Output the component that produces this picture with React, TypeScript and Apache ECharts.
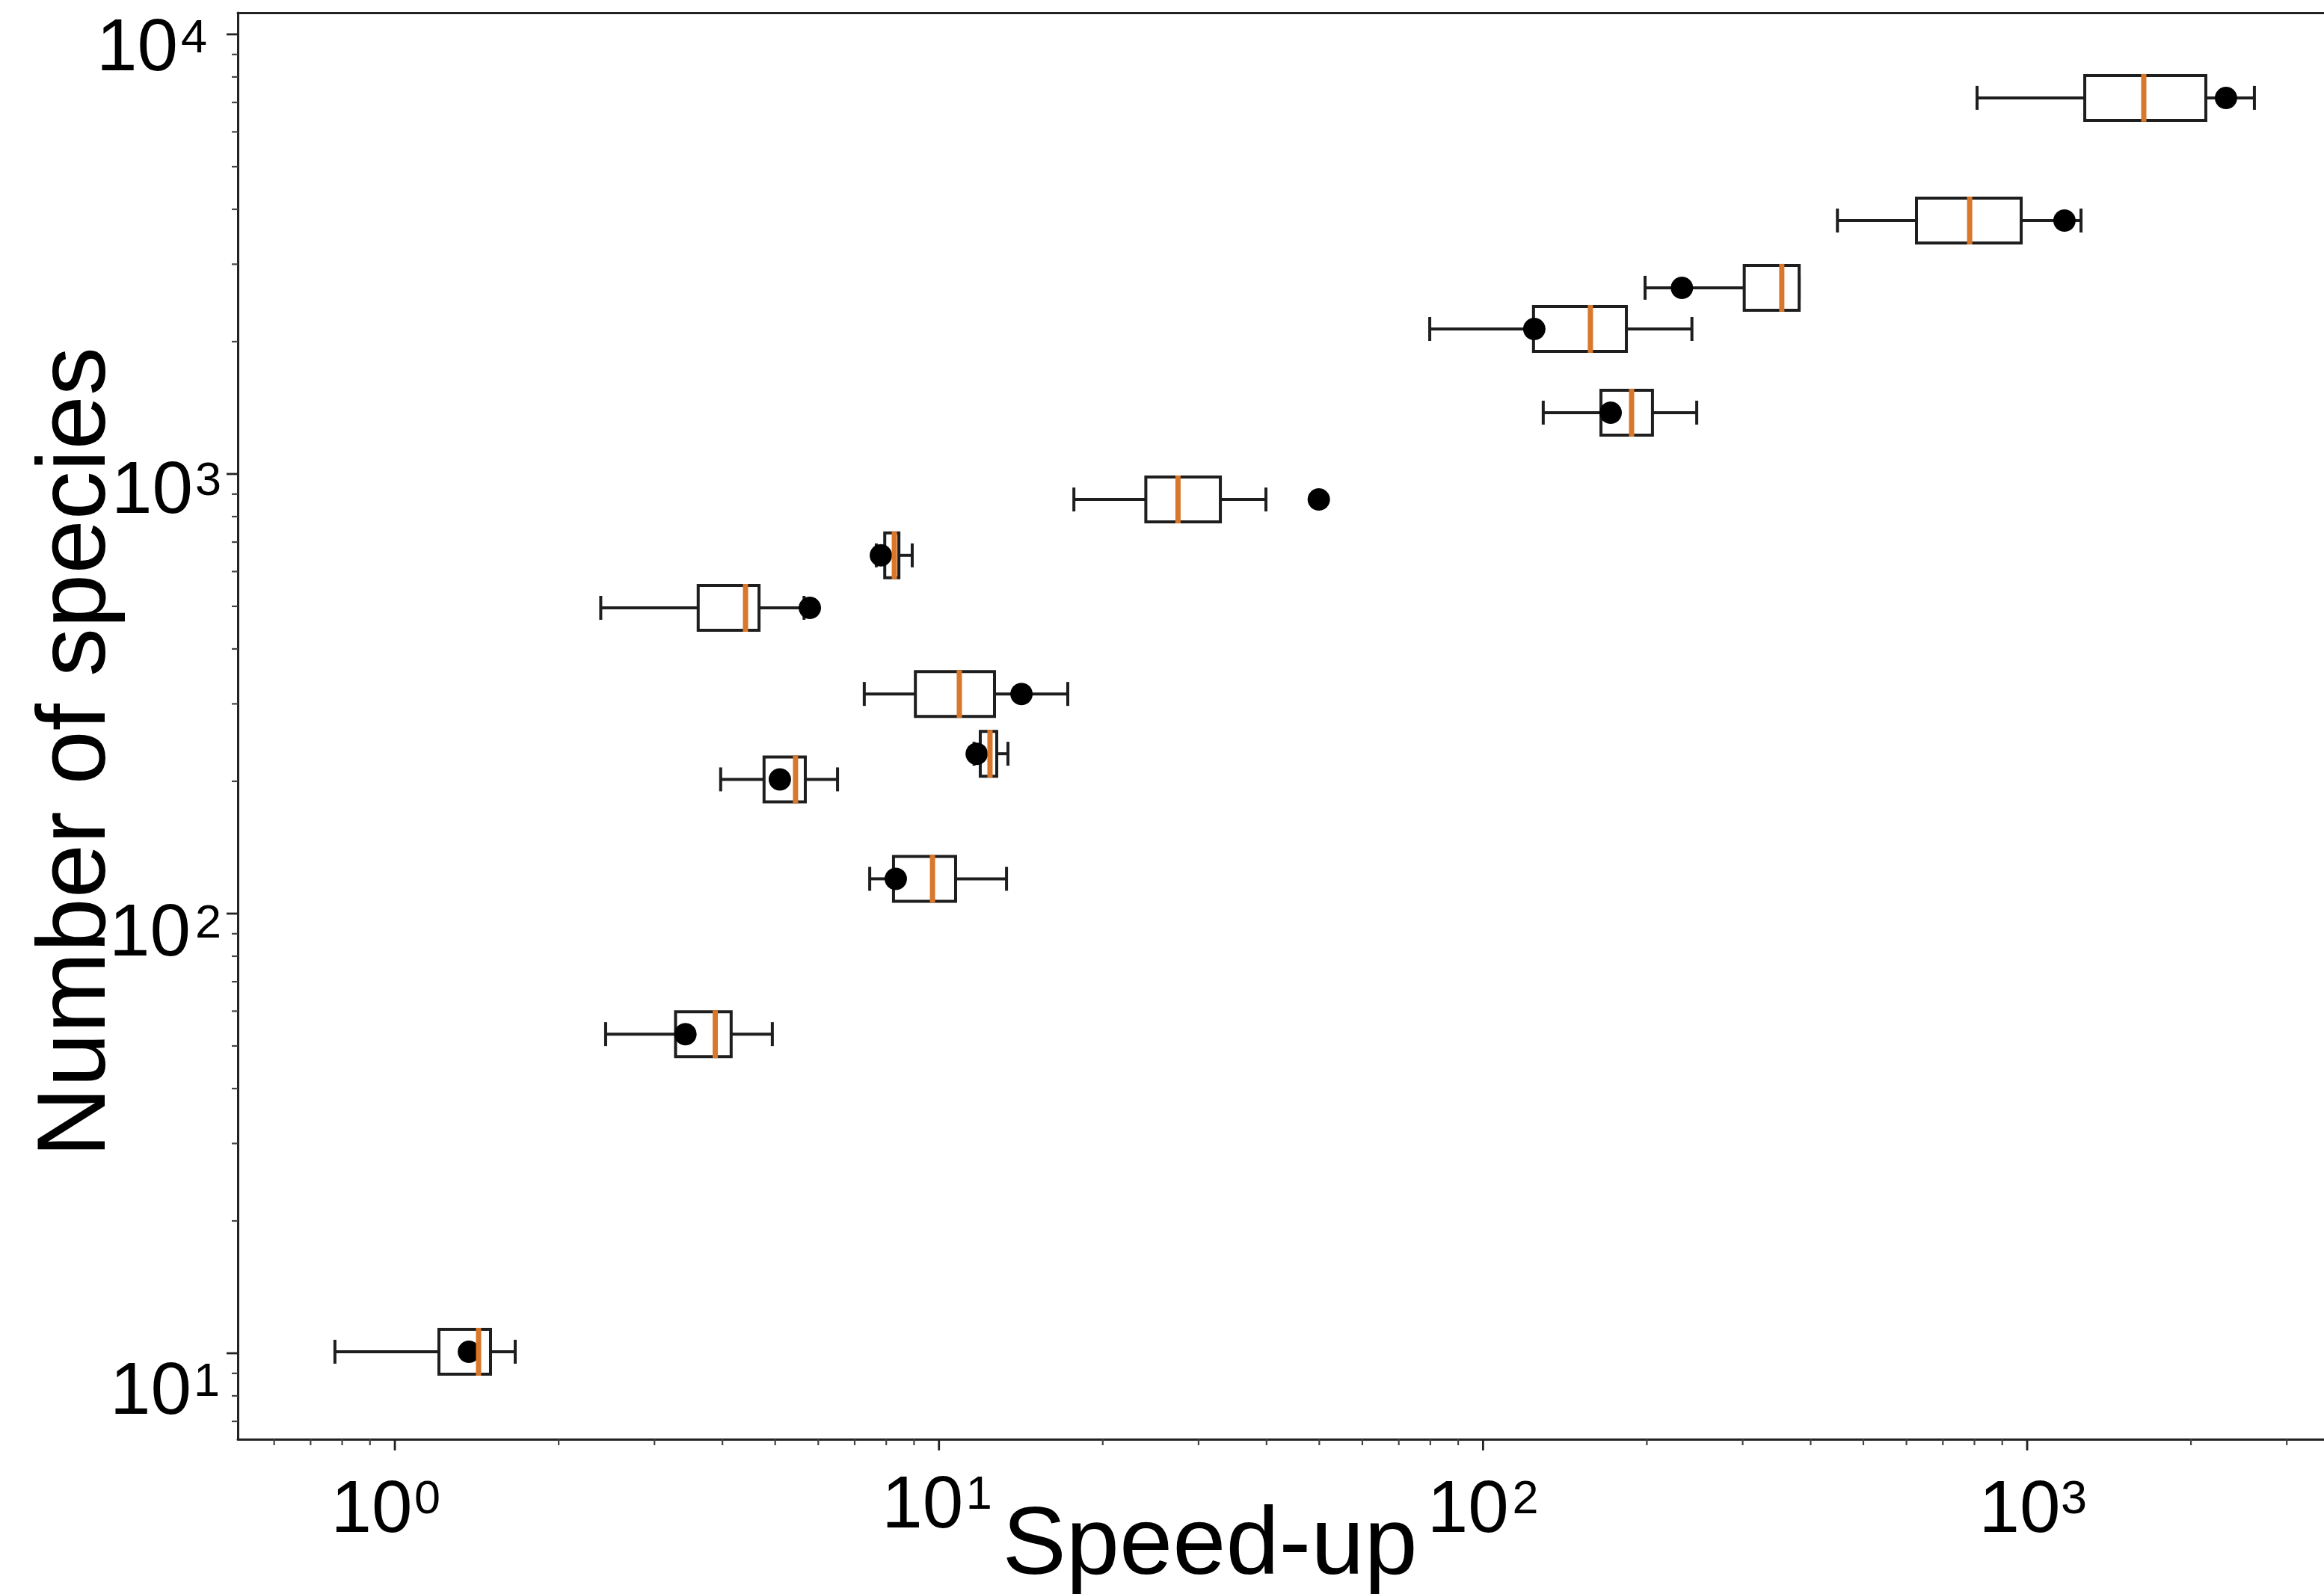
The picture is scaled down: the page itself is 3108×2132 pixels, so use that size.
import React, { useEffect, useRef } from "react";
import * as echarts from "echarts";

// ---------------- data ----------------
const species = [7170, 3772, 2652, 2137, 1379, 875, 653, 496, 316, 231, 202, 120, 53.2, 10.08];
const whiskerLow = [809, 448, 198.5, 79.8, 129, 17.7, 7.67, 2.39, 7.29, 11.6, 3.97, 7.46, 2.44, 0.776];
const quartile1 = [1276, 626, 302, 123.8, 164.7, 24.0, 7.95, 3.61, 9.05, 11.91, 4.77, 8.25, 3.28, 1.205];
const medians = [1638, 784, 354, 157.5, 187.5, 27.5, 8.28, 4.41, 10.9, 12.41, 5.45, 9.73, 3.88, 1.425];
const quartile3 = [2130, 975, 381, 183.4, 204.8, 32.9, 8.44, 4.67, 12.65, 12.77, 5.68, 10.73, 4.15, 1.499];
const whiskerHigh = [2616, 1256, 381, 242, 247, 39.9, 8.93, 5.65, 17.25, 13.39, 6.51, 13.31, 4.94, 1.664];
const pointValues = [2320, 1171, 232, 124.2, 171.6, 49.9, 7.82, 5.79, 14.18, 11.73, 5.10, 8.33, 3.42, 1.368];

// axis ranges and ticks
const X_MIN = 0.5144;
const X_MAX = 3512;
const Y_MIN = 6.374;
const Y_MAX = 11200;
const xMajorTicks = [1, 10, 100, 1000];
const xMinorTicks = [0.6, 0.7, 0.8, 0.9, 2, 3, 4, 5, 6, 7, 8, 9, 20, 30, 40, 50, 60, 70, 80, 90,
  200, 300, 400, 500, 600, 700, 800, 900, 2000, 3000];
const yMajorTicks = [10, 100, 1000, 10000];
const yMinorTicks = [7, 8, 9, 20, 30, 40, 50, 60, 70, 80, 90, 200, 300, 400, 500, 600, 700, 800, 900,
  2000, 3000, 4000, 5000, 6000, 7000, 8000, 9000];
const xTickExponents = [0, 1, 2, 3];
const yTickExponents = [1, 2, 3, 4];

// ---------------- layout / style ----------------
const FONT = "'Liberation Sans', Arial, Helvetica, sans-serif";
const BOX_STROKE = "#1e1e1e";
const MEDIAN_COLOR = "#d9772b";
// offsets of "10" and of the exponent relative to the tick position
const xLabelLayout: Record<number, { main: number[]; sup: number[] }> = {
  0: { main: [-31, 90], sup: [26, 77] },
  1: { main: [-22, 84], sup: [36, 71] },
  2: { main: [-20, 90], sup: [39, 77] },
  3: { main: [-10, 90], sup: [45, 77] },
};
const yLabelLayout: Record<number, { main: number[]; sup: number[] }> = {
  1: { main: [-62, 47], sup: [-59, 35] },
  2: { main: [-63, 22], sup: [-57, 10] },
  3: { main: [-60, 18], sup: [-57, 6] },
  4: { main: [-80, 14], sup: [-76, 2] },
};

function App() {
  const ref = useRef<HTMLDivElement>(null);

  useEffect(() => {
    document.body.style.margin = "0";
    document.body.style.overflow = "hidden";
    if (!ref.current) return;
    const chart = echarts.init(ref.current, undefined, { renderer: "svg" });

    const boxData = species.map((s, i) => [
      s, whiskerLow[i], quartile1[i], medians[i], quartile3[i], whiskerHigh[i], pointValues[i],
    ]);

    const tickData = [
      ...xMajorTicks.map((v) => [v, Y_MIN, 0, 1]),
      ...xMinorTicks.map((v) => [v, Y_MIN, 0, 0]),
      ...yMajorTicks.map((v) => [X_MIN, v, 1, 1]),
      ...yMinorTicks.map((v) => [X_MIN, v, 1, 0]),
    ];

    const labelData = [
      ...xTickExponents.map((e) => [Math.pow(10, e), Y_MIN, 0, e]),
      ...yTickExponents.map((e) => [X_MIN, Math.pow(10, e), 1, e]),
    ];

    const option: any = {
      animation: false,
      backgroundColor: "#ffffff",
      grid: {
        left: 318,
        top: 17,
        right: 0,
        bottom: 207,
        containLabel: false,
        outerBoundsMode: "none",
      },
      xAxis: [
        {
          type: "log",
          logBase: 10,
          min: X_MIN,
          max: X_MAX,
          position: "bottom",
          axisLine: { show: true, onZero: false, lineStyle: { color: "#222", width: 3 } },
          axisTick: { show: false },
          axisLabel: { show: false },
          splitLine: { show: false },
          minorTick: { show: false },
          name: "Speed-up",
          nameLocation: "middle",
          nameGap: 71,
          nameTextStyle: {
            fontSize: 128,
            fontFamily: FONT,
            color: "#000",
            padding: [0, 190, 0, 0],
          },
        },
        {
          type: "log",
          logBase: 10,
          min: X_MIN,
          max: X_MAX,
          position: "top",
          axisLine: { show: true, onZero: false, lineStyle: { color: "#222", width: 3 } },
          axisTick: { show: false },
          axisLabel: { show: false },
          splitLine: { show: false },
        },
      ],
      yAxis: {
        type: "log",
        logBase: 10,
        min: Y_MIN,
        max: Y_MAX,
        axisLine: { show: true, onZero: false, lineStyle: { color: "#222", width: 3 } },
        axisTick: { show: false },
        axisLabel: { show: false },
        splitLine: { show: false },
        name: "Number of species",
        nameLocation: "middle",
        nameGap: 158,
        nameTextStyle: {
          fontSize: 130,
          fontFamily: FONT,
          color: "#000",
          padding: [0, 70, 0, 0],
        },
      },
      series: [
        {
          type: "custom",
          name: "ticks",
          coordinateSystem: "cartesian2d",
          xAxisIndex: 0,
          yAxisIndex: 0,
          silent: true,
          clip: false,
          encode: { x: 0, y: 1 },
          data: tickData,
          renderItem: (params: any, api: any) => {
            const p = api.coord([api.value(0), api.value(1)]);
            const isY = api.value(2) === 1;
            const major = api.value(3) === 1;
            const len = major ? 15 : 8;
            const shape = isY
              ? { x1: p[0] - len, y1: p[1], x2: p[0], y2: p[1] }
              : { x1: p[0], y1: p[1], x2: p[0], y2: p[1] + len };
            return {
              type: "line",
              shape,
              style: { stroke: major ? "#222" : "#444", lineWidth: major ? 2.8 : 2.2 },
            };
          },
        },
        {
          type: "custom",
          name: "tickLabels",
          coordinateSystem: "cartesian2d",
          xAxisIndex: 0,
          yAxisIndex: 0,
          silent: true,
          clip: false,
          encode: { x: 0, y: 1 },
          data: labelData,
          renderItem: (params: any, api: any) => {
            const p = api.coord([api.value(0), api.value(1)]);
            const isY = api.value(2) === 1;
            const e = api.value(3);
            const lay = isY ? yLabelLayout[e] : xLabelLayout[e];
            return {
              type: "group",
              children: [
                {
                  type: "text",
                  style: {
                    text: "10",
                    x: p[0] + lay.main[0],
                    y: p[1] + lay.main[1],
                    fontSize: 98,
                    fontFamily: FONT,
                    fill: "#000",
                    align: isY ? "right" : "center",
                    textAlign: isY ? "right" : "center",
                    verticalAlign: "middle",
                    textVerticalAlign: "middle",
                  },
                },
                {
                  type: "text",
                  style: {
                    text: String(e),
                    x: p[0] + lay.sup[0],
                    y: p[1] + lay.sup[1],
                    fontSize: 63,
                    fontFamily: FONT,
                    fill: "#000",
                    align: "left",
                    textAlign: "left",
                    verticalAlign: "middle",
                    textVerticalAlign: "middle",
                  },
                },
              ],
            };
          },
        },
        {
          type: "custom",
          name: "boxes",
          coordinateSystem: "cartesian2d",
          xAxisIndex: 0,
          yAxisIndex: 0,
          silent: true,
          clip: false,
          encode: { x: [1, 2, 3, 4, 5, 6], y: 0 },
          data: boxData,
          z: 5,
          renderItem: (params: any, api: any) => {
            const yv = api.value(0);
            const xs = [1, 2, 3, 4, 5, 6].map((d) => api.coord([api.value(d), yv])[0]);
            const yc = api.coord([api.value(3), yv])[1];
            const [xl, xq1, xmed, xq3, xh, xdot] = xs;
            const hb = 30;
            const hc = 16;
            const lineStyle = { stroke: BOX_STROKE, lineWidth: 4 };
            return {
              type: "group",
              children: [
                { type: "line", shape: { x1: xl, y1: yc, x2: xq1, y2: yc }, style: lineStyle },
                { type: "line", shape: { x1: xq3, y1: yc, x2: xh, y2: yc }, style: lineStyle },
                { type: "line", shape: { x1: xl, y1: yc - hc, x2: xl, y2: yc + hc }, style: lineStyle },
                { type: "line", shape: { x1: xh, y1: yc - hc, x2: xh, y2: yc + hc }, style: lineStyle },
                {
                  type: "rect",
                  shape: { x: xq1, y: yc - hb, width: xq3 - xq1, height: 2 * hb },
                  style: { fill: "#ffffff", stroke: BOX_STROKE, lineWidth: 4 },
                },
                { type: "circle", shape: { cx: xdot, cy: yc, r: 15 }, style: { fill: "#000000" } },
                {
                  type: "line",
                  shape: { x1: xmed, y1: yc - hb - 2, x2: xmed, y2: yc + hb + 2 },
                  style: { stroke: MEDIAN_COLOR, lineWidth: 7 },
                },
              ],
            };
          },
        },
      ],
    };

    chart.setOption(option);
    return () => {
      chart.dispose();
    };
  }, []);

  return <div ref={ref} style={{ width: 3108, height: 2132 }} />;
}

export default App;
